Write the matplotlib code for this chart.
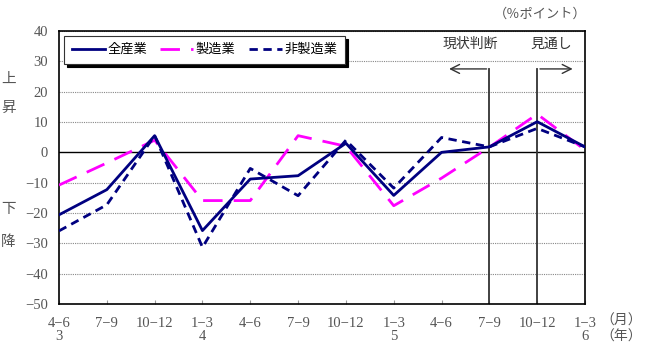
import numpy as np
import matplotlib
matplotlib.use("Agg")
from matplotlib import pyplot as plt

plt.rcParams["font.family"] = ["Liberation Serif", "Noto Sans CJK JP"]

months = ["4−6", "7−9", "10−12", "1−3", "4−6", "7−9", "10−12", "1−3", "4−6", "7−9", "10−12", "1−3"]
years = ["3", "", "", "4", "", "", "", "5", "", "", "", "6"]

all_ind = [-20.6, -12.3, 5.5, -25.8, -8.8, -7.7, 3.0, -14.2, 0.0, 1.8, 10.1, 1.8]
manuf = [-10.8, -3.5, 4.0, -15.9, -15.9, 5.5, 2.0, -17.6, -8.5, 1.7, 12.6, 0.8]
non_manuf = [-25.9, -17.3, 5.5, -31.3, -5.3, -14.3, 4.0, -11.8, 4.9, 1.8, 7.9, 1.8]

NAVY = "#000080"
MAGENTA = "#FF00FF"
GRAY = "#555555"

fig = plt.figure(figsize=(6.49, 3.54), dpi=100)
ax = fig.add_axes([0.0909, 0.1412, 0.8105, 0.7712])

x = np.arange(len(months))

ax.plot(x, all_ind, color=NAVY, lw=2.0, label="全産業", zorder=4)
ax.plot(x, manuf, color=MAGENTA, lw=2.0, dashes=(7, 4), label="製造業", zorder=3)
ax.plot(x, non_manuf, color=NAVY, lw=2.0, dashes=(3, 2), label="非製造業", zorder=3)

ax.set_xlim(0, 11)
ax.set_ylim(-50, 40)
ax.set_yticks(np.arange(-50, 41, 10))
ax.set_yticklabels([str(v).replace("-", "−") for v in range(-50, 41, 10)])
for v in range(-40, 41, 10):
    if v == 0:
        ax.axhline(0, color="black", lw=1.0, zorder=1)
    else:
        ax.axhline(v, color="#888888", lw=0.8, ls=(0, (1, 1)), zorder=1)

ax.set_xticks(x)
ax.set_xticklabels([m + "\n" + y for m, y in zip(months, years)], linespacing=1.0)
ax.tick_params(axis="x", direction="in", length=3, color="#999999", labelsize=10.5,
               labelcolor=GRAY, pad=9)
ax.tick_params(axis="y", length=0, labelsize=10.5, labelcolor=GRAY, pad=8)
for s in ax.spines.values():
    s.set_linewidth(1.2)

# 現状判断 / 見通し markers
ax.plot([9, 9], [-50, 27.5], color="#333333", lw=1.3, zorder=2)
ax.plot([10, 10], [-50, 27.5], color="#333333", lw=1.3, zorder=2)
ax.annotate("", xy=(8.1, 27.5), xytext=(9, 27.5),
            arrowprops=dict(arrowstyle="->", color="#333333", lw=1.0, mutation_scale=16))
ax.annotate("", xy=(10.8, 27.5), xytext=(10, 27.5),
            arrowprops=dict(arrowstyle="->", color="#333333", lw=1.0, mutation_scale=16))
ax.text(8.6, 35.5, "現状判断", ha="center", va="center", fontsize=10, color="#333333")
ax.text(10.29, 35.5, "見通し", ha="center", va="center", fontsize=10, color="#333333")

leg = ax.legend(loc="upper left", bbox_to_anchor=(0.009, 0.982), ncol=3, frameon=True,
                fancybox=False, shadow={"color": "black", "alpha": 1.0}, fontsize=9.5,
                handlelength=2.5, columnspacing=1.0, handletextpad=0.2, borderpad=0.6,
                borderaxespad=0)
leg.get_frame().set_edgecolor("#333333")
leg.get_frame().set_linewidth(0.8)

fig.text(0.832, 0.96, "（％ポイント）", ha="center", va="center", fontsize=9.5, color=GRAY)
fig.text(0.013, 0.777, "上", ha="center", va="center", fontsize=10.5, color=GRAY)
fig.text(0.013, 0.694, "昇", ha="center", va="center", fontsize=10.5, color=GRAY)
fig.text(0.013, 0.407, "下", ha="center", va="center", fontsize=10.5, color=GRAY)
fig.text(0.013, 0.316, "降", ha="center", va="center", fontsize=10.5, color=GRAY)
fig.text(0.957, 0.093, "（月）", ha="center", va="center", fontsize=10, color=GRAY)
fig.text(0.957, 0.048, "（年）", ha="center", va="center", fontsize=10, color=GRAY)

plt.savefig("out.png", dpi=100)
plt.close()
